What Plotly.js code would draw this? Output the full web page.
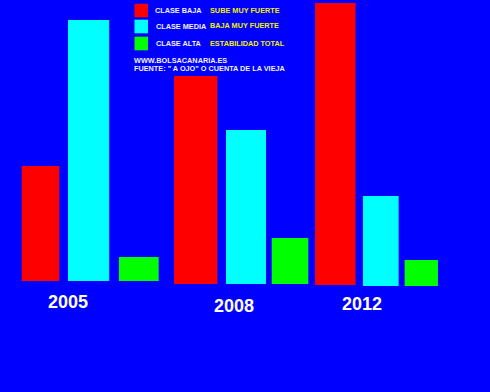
<!DOCTYPE html>
<html>
<head>
<meta charset="utf-8">
<script src="https://cdn.plot.ly/plotly-3.0.1.min.js"></script>
<style>html,body{margin:0;padding:0;background:#0000ff;}#chart{width:490px;height:392px;}</style>
</head>
<body>
<div id="chart"></div>
<script>
// ---- data ----
var years = ['2005', '2008', '2012'];
var claseBaja = [115, 208, 282];
var claseMedia = [261, 154, 90];
var claseAlta = [24, 46, 26];
var seriesNames = ['CLASE BAJA', 'CLASE MEDIA', 'CLASE ALTA'];
var seriesNotes = ['SUBE MUY FUERTE', 'BAJA MUY FUERTE', 'ESTABILIDAD TOTAL'];
var sourceLines = ['WWW.BOLSACANARIA.ES', 'FUENTE: " A OJO" O CUENTA DE LA VIEJA'];

// ---- geometry / style (hand-drawn layout) ----
var colors = ['#ff0000', '#00ffff', '#00ff00'];
var geom = [
  {x: [40.5, 195.7, 335.3], w: [37.6, 43.3, 40.5], base: [111, 108, 107]},
  {x: [88.6, 246, 380.8],   w: [41.2, 40, 35.7],   base: [111, 108, 106]},
  {x: [138.8, 290, 421.3],  w: [39.7, 36.6, 33.3], base: [111, 108, 106]}
];
var yearPos = {x: [67.7, 233.8, 362], y: [90, 86, 88]};
var values = [claseBaja, claseMedia, claseAlta];

var font = 'Arial, "Liberation Sans", sans-serif';
var small = 7.3;
var traces = values.map(function (v, i) {
  return {
    type: 'bar', x: geom[i].x, y: v, width: geom[i].w, base: geom[i].base,
    name: seriesNames[i], marker: {color: colors[i], line: {width: 0}},
    showlegend: false, hoverinfo: 'skip'
  };
});

var annotations = [];
years.forEach(function (yr, i) {
  annotations.push({x: yearPos.x[i], y: yearPos.y[i], xref: 'x', yref: 'y', text: '<b>' + yr + '</b>',
    showarrow: false, xanchor: 'center', yanchor: 'middle', font: {family: font, size: 18, color: '#ffffff'}});
});
var legY = [10.5, 26.5, 43.5];
var shapes = [];
seriesNames.forEach(function (n, i) {
  shapes.push({type: 'rect', xref: 'x', yref: 'y', x0: 134.5, x1: 148, y0: 392 - legY[i] - 6.8, y1: 392 - legY[i] + 6.8,
    fillcolor: colors[i], line: {width: 0}});
  annotations.push({x: 152.8 + (i === 0 ? 0 : 0.8), y: 392 - legY[i], xref: 'x', yref: 'y', text: '<b>' + n + '</b>', showarrow: false,
    xanchor: 'left', yanchor: 'middle', font: {family: font, size: small, color: '#f0f0ff'}});
  annotations.push({x: 207.5, y: 392 - legY[i] + (i === 1 ? 1.2 : 0), xref: 'x', yref: 'y', text: '<b>' + seriesNotes[i] + '</b>', showarrow: false,
    xanchor: 'left', yanchor: 'middle', font: {family: font, size: small, color: '#f0f000'}});
});
sourceLines.forEach(function (t, i) {
  annotations.push({x: 132.3, y: 392 - (60 + i * 8), xref: 'x', yref: 'y', text: '<b>' + t + '</b>', showarrow: false,
    xanchor: 'left', yanchor: 'middle', font: {family: font, size: small, color: '#f0f0ff'}});
});

var layout = {
  width: 490, height: 392,
  margin: {l: 0, r: 0, t: 0, b: 0, pad: 0},
  paper_bgcolor: '#0000ff', plot_bgcolor: '#0000ff',
  xaxis: {range: [0, 490], visible: false, fixedrange: true},
  yaxis: {range: [0, 392], visible: false, fixedrange: true},
  barmode: 'overlay',
  shapes: shapes, annotations: annotations, showlegend: false
};
Plotly.newPlot('chart', traces, layout, {staticPlot: true, displayModeBar: false});
</script>
</body>
</html>
